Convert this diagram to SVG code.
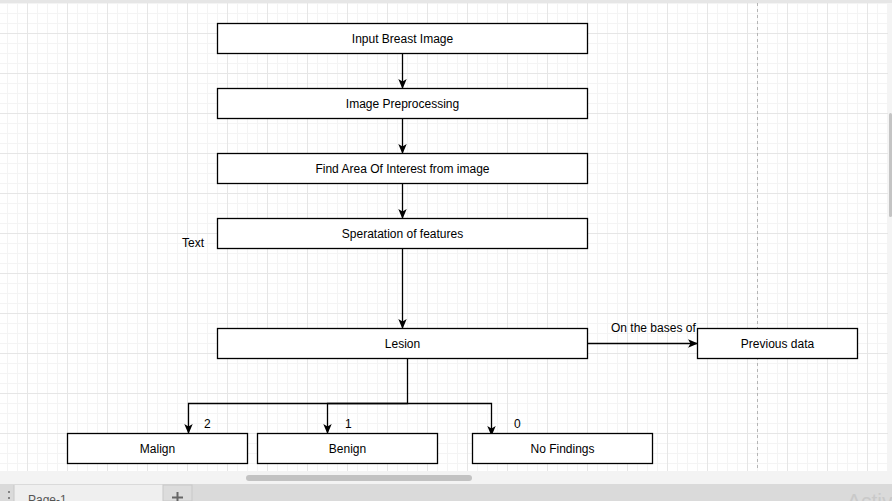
<svg xmlns="http://www.w3.org/2000/svg" width="892" height="501" viewBox="0 0 892 501">
<defs>
<pattern id="minor" x="7" y="3" width="10" height="10" patternUnits="userSpaceOnUse">
<path d="M0 0.5H10M0.5 0V10" fill="none" stroke="#f4f4f4" stroke-width="1"/>
</pattern>
<pattern id="major" x="27" y="33" width="40" height="40" patternUnits="userSpaceOnUse">
<path d="M0 0.5H40M0.5 0V40" fill="none" stroke="#e6e6e6" stroke-width="1"/>
</pattern>
<marker id="arr" viewBox="0 0 10 10" refX="9" refY="5" markerWidth="10" markerHeight="10" markerUnits="userSpaceOnUse" orient="auto">
<path d="M0 0.8L10 5L0 9.2L2.5 5Z" fill="#000"/>
</marker>
</defs>
<style>
.box{fill:#fff;stroke:#000;stroke-width:1.3}
.t{font-family:"Liberation Sans",Arial,sans-serif;font-size:12px;fill:#000}
.c{fill:none;stroke:#000;stroke-width:1.3}
</style>
<rect x="0" y="0" width="892" height="501" fill="#fff"/>
<rect x="0" y="3" width="888" height="468" fill="url(#minor)"/>
<rect x="0" y="3" width="888" height="468" fill="url(#major)"/>
<rect x="0" y="0" width="892" height="3" fill="#e6e6e6"/>
<line x1="757.5" y1="3" x2="757.5" y2="471" stroke="#b5b5b5" stroke-width="1" stroke-dasharray="3,3"/>
<rect x="888" y="3" width="4" height="468" fill="#f4f4f4"/>
<rect x="889" y="113" width="3" height="104" rx="1.5" fill="#c4c4c4"/>
<rect x="0" y="471" width="892" height="13" fill="#f3f3f3"/>
<rect x="246" y="475" width="226" height="6" rx="3" fill="#c2c2c2"/>
<rect x="0" y="484" width="892" height="17" fill="#dadada"/>
<rect x="14" y="485" width="149" height="16" fill="#efefef"/>
<line x1="14" y1="485" x2="14" y2="501" stroke="#c8c8c8"/>
<rect x="163" y="485" width="29" height="16" fill="#dcdcdc" stroke="#c8c8c8" stroke-width="1"/>
<circle cx="9" cy="492" r="1" fill="#666"/>
<circle cx="9" cy="498" r="1" fill="#666"/>
<text x="28" y="504" style="font-family:'Liberation Sans',Arial,sans-serif;font-size:12px;fill:#555">Page-1</text>
<path d="M177.5 492V501M172 497.5H183" stroke="#666" stroke-width="2"/>
<text x="847" y="508" style="font-family:'Liberation Sans',Arial,sans-serif;font-size:21px;fill:#c9c9c9">Activ</text>

<g id="connectors">
<path class="c" d="M402.5 53.5V88" marker-end="url(#arr)"/>
<path class="c" d="M402.5 118.5V153" marker-end="url(#arr)"/>
<path class="c" d="M402.5 183.5V218" marker-end="url(#arr)"/>
<path class="c" d="M402.5 248.5V328" marker-end="url(#arr)"/>
<path class="c" d="M587.5 343.5H697" marker-end="url(#arr)"/>
<path class="c" d="M407.5 358.5V403.5H188.5V433" marker-end="url(#arr)"/>
<path class="c" d="M407.5 403.5H327.5V433" marker-end="url(#arr)"/>
<path class="c" d="M407.5 403.5H491.5V435" marker-end="url(#arr)"/>
<text class="t" x="611" y="332">On the bases of</text>
<text class="t" x="204" y="428">2</text>
<text class="t" x="345" y="428">1</text>
<text class="t" x="514" y="428">0</text>
</g>

<text class="t" x="182" y="247">Text</text>

<g id="n1"><rect class="box" x="217.5" y="23.5" width="370" height="30"/><text class="t" x="402.5" y="43" text-anchor="middle">Input Breast Image</text></g>
<g id="n2"><rect class="box" x="217.5" y="88.5" width="370" height="30"/><text class="t" x="402.5" y="108" text-anchor="middle">Image Preprocessing</text></g>
<g id="n3"><rect class="box" x="217.5" y="153.5" width="370" height="30"/><text class="t" x="402.5" y="173" text-anchor="middle">Find Area Of Interest from image</text></g>
<g id="n4"><rect class="box" x="217.5" y="218.5" width="370" height="30"/><text class="t" x="402.5" y="238" text-anchor="middle">Speratation of features</text></g>
<g id="n5"><rect class="box" x="217.5" y="328.5" width="370" height="30"/><text class="t" x="402.5" y="348" text-anchor="middle">Lesion</text></g>
<g id="n6"><rect class="box" x="697.5" y="328.5" width="160" height="30"/><text class="t" x="777.5" y="348" text-anchor="middle">Previous data</text></g>
<g id="n7"><rect class="box" x="67.5" y="433.5" width="180" height="30"/><text class="t" x="157.5" y="453" text-anchor="middle">Malign</text></g>
<g id="n8"><rect class="box" x="257.5" y="433.5" width="180" height="30"/><text class="t" x="347.5" y="453" text-anchor="middle">Benign</text></g>
<g id="n9"><rect class="box" x="472.5" y="433.5" width="180" height="30"/><text class="t" x="562.5" y="453" text-anchor="middle">No Findings</text></g>
</svg>
